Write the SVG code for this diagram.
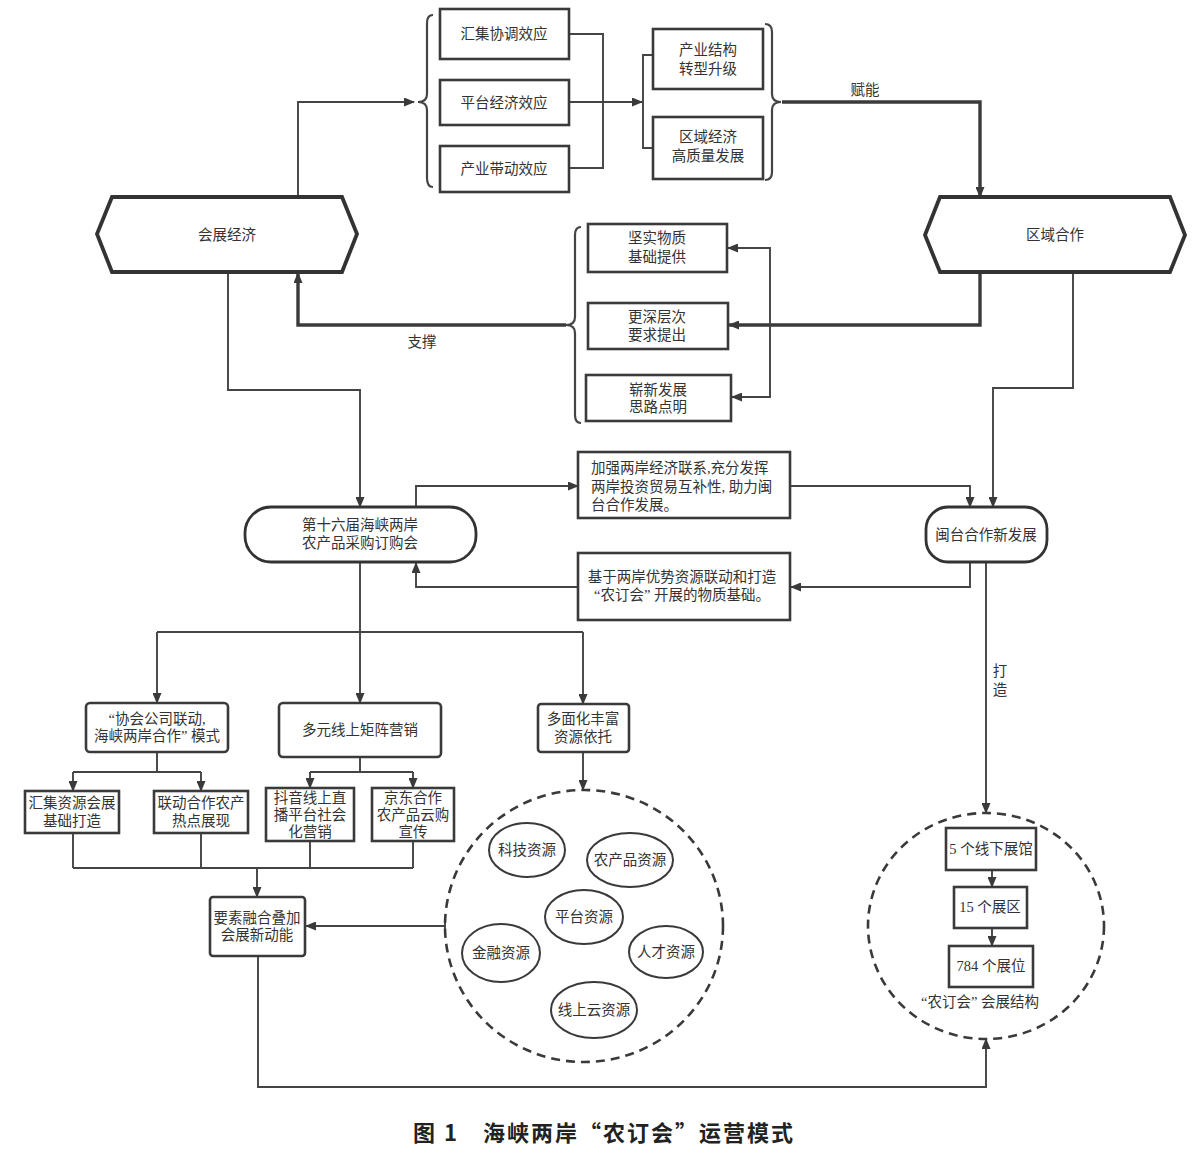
<svg xmlns="http://www.w3.org/2000/svg" width="1200" height="1161" viewBox="0 0 1200 1161">
<style>
text{font-family:"Liberation Serif","Noto Sans CJK SC",serif;font-size:14.5px;fill:#333;text-anchor:middle}
.box{fill:#fff;stroke:#3a3a3a;stroke-width:2.6}
.hex{fill:#fff;stroke:#333;stroke-width:3.8}
.pill{fill:#fff;stroke:#333;stroke-width:2.8}
.ell{fill:#fff;stroke:#3a3a3a;stroke-width:2}
.dash{fill:none;stroke:#3a3a3a;stroke-width:2.6;stroke-dasharray:9 6}
.c{fill:none;stroke:#444;stroke-width:1.9}
.ca{fill:none;stroke:#444;stroke-width:1.9;marker-end:url(#ah)}
.t{fill:none;stroke:#3a3a3a;stroke-width:3.4}
.ta{fill:none;stroke:#3a3a3a;stroke-width:3.4;marker-end:url(#ah)}
.br{fill:none;stroke:#444;stroke-width:2.2}
.cap{font-family:"Noto Sans CJK SC",sans-serif;font-size:22px;font-weight:bold;fill:#222;letter-spacing:2px}
.lt{text-anchor:start}
</style>
<defs>
<marker id="ah" markerUnits="userSpaceOnUse" markerWidth="11" markerHeight="9" refX="10" refY="4.5" orient="auto">
<path d="M0,0 L11,4.5 L0,9 z" fill="#3a3a3a"/>
</marker>
</defs>
<rect width="1200" height="1161" fill="#fff"/>

<g id="connectors">
<path class="ca" d="M298,197 V102 H414"/>
<path class="c" d="M569,34 H603 V168 H569"/>
<path class="ca" d="M569,102 H642"/>
<path class="c" d="M653,55 H643 V148 H653"/>
<path class="ta" d="M782,102 H980 V197"/>
<path class="ta" d="M566,325 H298 V273"/>
<path class="ta" d="M980,272 V325 H729"/>
<path class="ca" d="M770,325 V248 H728"/>
<path class="ca" d="M770,325 V397 H732"/>
<path class="ca" d="M228,272 V390 H360 V507"/>
<path class="ca" d="M1073,272 V388 H993 V507"/>
<path class="ca" d="M416,507 V486 H578"/>
<path class="ca" d="M790,486 H970 V507"/>
<path class="ca" d="M970,562 V587 H791"/>
<path class="ca" d="M578,587 H416 V563"/>
<path class="c" d="M360,562 V632 M157,632 H583"/>
<path class="ca" d="M157,632 V703"/>
<path class="ca" d="M360,632 V703"/>
<path class="ca" d="M583,632 V704"/>
<path class="c" d="M157,752 V772 M73,772 H201"/>
<path class="ca" d="M73,772 V791"/>
<path class="ca" d="M201,772 V791"/>
<path class="c" d="M360,757 V772 M310,772 H413"/>
<path class="ca" d="M310,772 V788"/>
<path class="ca" d="M413,772 V788"/>
<path class="c" d="M73,833 V868 M201,833 V868 M310,841 V868 M413,841 V868 M73,868 H413"/>
<path class="ca" d="M257,868 V897"/>
<path class="ca" d="M445,926 H306"/>
<path class="c" d="M445,918 V934"/>
<path class="ca" d="M583,752 V790"/>
<path class="ca" d="M258,956 V1087 H986 V1039"/>
<path class="ca" d="M986,562 V813"/>
<path class="ca" d="M992,870 V887"/>
<path class="ca" d="M992,928 V946"/>
<text x="865" y="95">赋能</text>
<text x="422" y="347">支撑</text>
<text x="1000" y="676">打</text>
<text x="1000" y="695">造</text>
</g>

<g id="brace1"><path class="br" d="M433,15 Q427,15 427,23 V94 Q427,102 418,102 Q427,102 427,110 V178 Q427,187 433,187"/></g>
<g id="brace2"><path class="br" d="M765,24 Q772,24 772,32 V94 Q772,102 781,102 Q772,102 772,110 V172 Q772,180 765,180"/></g>
<g id="brace3"><path class="br" d="M581,227 Q575,227 575,235 V317 Q575,325 566,325 Q575,325 575,333 V415 Q575,423 581,423"/></g>

<g id="huizhan"><polygon class="hex" points="97,234 112,197 342,197 357,234 342,272 112,272"/><text x="227" y="240">会展经济</text></g>
<g id="quyu"><polygon class="hex" points="925,235 940,197 1170,197 1185,235 1170,272 940,272"/><text x="1055" y="240">区域合作</text></g>

<g id="e1"><rect class="box" x="440" y="9" width="129" height="50"/><text x="504" y="39">汇集协调效应</text></g>
<g id="e2"><rect class="box" x="440" y="80" width="129" height="45"/><text x="504" y="108">平台经济效应</text></g>
<g id="e3"><rect class="box" x="440" y="146" width="129" height="46"/><text x="504" y="174">产业带动效应</text></g>
<g id="r1"><rect class="box" x="653" y="29" width="110" height="60"/><text x="708" y="55">产业结构</text><text x="708" y="74">转型升级</text></g>
<g id="r2"><rect class="box" x="653" y="117" width="110" height="62"/><text x="708" y="142">区域经济</text><text x="708" y="161">高质量发展</text></g>

<g id="m1"><rect class="box" x="588" y="224" width="139" height="48"/><text x="657" y="243">坚实物质</text><text x="657" y="262">基础提供</text></g>
<g id="m2"><rect class="box" x="588" y="303" width="140" height="46"/><text x="657" y="322">更深层次</text><text x="657" y="340">要求提出</text></g>
<g id="m3"><rect class="box" x="586" y="375" width="145" height="46"/><text x="658" y="395">崭新发展</text><text x="658" y="412">思路点明</text></g>

<g id="nongding"><rect class="pill" x="245" y="507" width="231" height="55" rx="26"/><text x="360" y="530">第十六届海峡两岸</text><text x="360" y="548">农产品采购订购会</text></g>
<g id="mintai"><rect class="pill" x="926" y="507" width="121" height="55" rx="22"/><text x="986" y="540">闽台合作新发展</text></g>
<g id="jiaqiang"><rect class="box" x="578" y="452" width="212" height="66"/><text class="lt" x="591" y="473">加强两岸经济联系,充分发挥</text><text class="lt" x="591" y="492">两岸投资贸易互补性, 助力闽</text><text class="lt" x="591" y="510">台合作发展。</text></g>
<g id="jiyu"><rect class="box" x="578" y="553" width="212" height="67"/><text x="682" y="582">基于两岸优势资源联动和打造</text><text x="682" y="600">“农订会”  开展的物质基础。</text></g>

<g id="xiehui"><rect class="box" x="86" y="703" width="142" height="49" rx="4"/><text x="157" y="724">“协会公司联动,</text><text x="157" y="741">海峡两岸合作” 模式</text></g>
<g id="duoyuan"><rect class="box" x="279" y="703" width="162" height="54" rx="4"/><text x="360" y="735">多元线上矩阵营销</text></g>
<g id="duomian"><rect class="box" x="538" y="704" width="91" height="48" rx="3"/><text x="583" y="724">多面化丰富</text><text x="583" y="742">资源依托</text></g>

<g id="b1"><rect class="box" x="25" y="791" width="94" height="42"/><text x="72" y="808">汇集资源会展</text><text x="72" y="826">基础打造</text></g>
<g id="b2"><rect class="box" x="154" y="791" width="94" height="42"/><text x="201" y="808">联动合作农产</text><text x="201" y="826">热点展现</text></g>
<g id="b3"><rect class="box" x="266" y="788" width="88" height="53"/><text x="310" y="803">抖音线上直</text><text x="310" y="820">播平台社会</text><text x="310" y="837">化营销</text></g>
<g id="b4"><rect class="box" x="372" y="788" width="82" height="53"/><text x="413" y="803">京东合作</text><text x="413" y="820">农产品云购</text><text x="413" y="837">宣传</text></g>
<g id="yaosu"><rect class="box" x="210" y="897" width="95" height="59" rx="3"/><text x="257" y="923">要素融合叠加</text><text x="257" y="940">会展新动能</text></g>

<g id="resources">
<ellipse class="dash" cx="584" cy="926" rx="139" ry="136"/>
<ellipse class="ell" cx="527" cy="850" rx="38" ry="27"/><text x="527" y="855">科技资源</text>
<ellipse class="ell" cx="630" cy="860" rx="43" ry="27"/><text x="630" y="865">农产品资源</text>
<ellipse class="ell" cx="584" cy="917" rx="39" ry="27"/><text x="584" y="922">平台资源</text>
<ellipse class="ell" cx="501" cy="953" rx="39" ry="29"/><text x="501" y="958">金融资源</text>
<ellipse class="ell" cx="666" cy="952" rx="37" ry="26"/><text x="666" y="957">人才资源</text>
<ellipse class="ell" cx="594" cy="1010" rx="43" ry="28"/><text x="594" y="1015">线上云资源</text>
</g>

<g id="structure">
<ellipse class="dash" cx="986" cy="926" rx="118" ry="113"/>
<rect class="box" x="946" y="828" width="90" height="42"/><text x="991" y="854">5 个线下展馆</text>
<rect class="box" x="954" y="887" width="73" height="41"/><text x="990" y="912">15 个展区</text>
<rect class="box" x="949" y="946" width="84" height="41"/><text x="991" y="971">784 个展位</text>
<text x="980" y="1007">“农订会” 会展结构</text>
</g>

<text class="cap" x="604" y="1141">图 1　海峡两岸“农订会”运营模式</text>
</svg>
